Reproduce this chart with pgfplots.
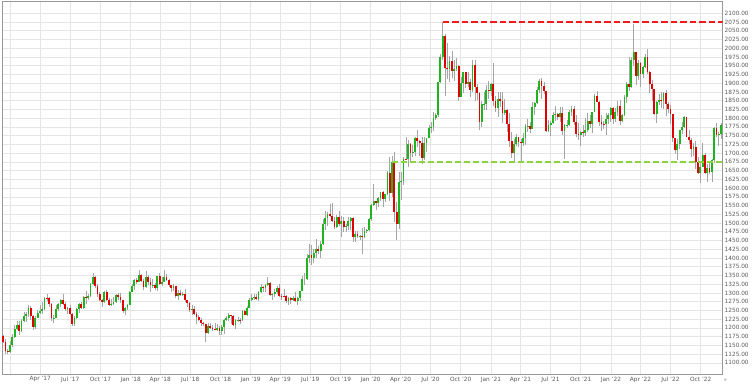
\documentclass[border=0pt]{standalone}
\usepackage{pgfplots}
\usepackage{pgfplotstable}
\pgfplotsset{compat=1.18}
\usepackage{fontspec}
\setmainfont{DejaVu Sans}
\definecolor{cgreen}{HTML}{1EB41E}
\definecolor{cred}{HTML}{E00000}
\definecolor{cwick}{HTML}{A5A5A5}
\definecolor{dred}{HTML}{EE1C1C}
\definecolor{dgreen}{HTML}{8CD43C}

\pgfplotstableread{
o h l c
1177 1180 1157 1160
1160 1167 1124 1134
1134 1139 1125 1132
1132 1163 1128 1151
1151 1182 1146 1173
1173 1207 1171 1196
1196 1219 1194 1209
1209 1220 1180 1190
1190 1226 1188 1220
1220 1244 1216 1234
1234 1245 1216 1239
1239 1264 1230 1257
1257 1263 1223 1234
1234 1236 1195 1203
1203 1233 1196 1229
1229 1251 1228 1243
1243 1265 1239 1249
1249 1274 1240 1253
1253 1289 1250 1285
1285 1296 1277 1284
1284 1287 1261 1268
1268 1270 1221 1228
1228 1236 1214 1229
1229 1264 1227 1253
1253 1270 1247 1267
1267 1282 1260 1279
1279 1296 1264 1267
1267 1275 1249 1254
1254 1259 1241 1256
1256 1264 1237 1241
1241 1243 1205 1212
1212 1233 1205 1228
1228 1257 1226 1254
1254 1270 1242 1269
1269 1274 1254 1258
1258 1291 1255 1289
1289 1306 1267 1285
1285 1298 1281 1291
1291 1327 1289 1325
1325 1357 1323 1346
1346 1347 1314 1320
1320 1326 1288 1297
1297 1304 1277 1280
1280 1283 1260 1274
1274 1306 1272 1304
1304 1307 1277 1280
1280 1284 1262 1266
1266 1283 1263 1269
1269 1289 1266 1274
1274 1297 1271 1294
1294 1299 1280 1287
1287 1299 1271 1280
1280 1280 1243 1248
1248 1261 1236 1256
1256 1268 1251 1266
1266 1305 1266 1303
1303 1326 1302 1320
1320 1339 1307 1338
1338 1344 1326 1332
1332 1366 1331 1350
1350 1355 1331 1333
1333 1340 1307 1316
1316 1362 1315 1346
1346 1352 1322 1330
1330 1342 1303 1322
1322 1341 1315 1324
1324 1328 1307 1313
1313 1349 1306 1349
1349 1356 1322 1325
1325 1346 1321 1332
1332 1365 1330 1345
1345 1355 1334 1336
1336 1339 1316 1323
1323 1323 1302 1314
1314 1326 1305 1320
1320 1321 1286 1291
1291 1307 1281 1301
1301 1308 1291 1294
1294 1303 1291 1298
1298 1310 1275 1279
1279 1280 1261 1270
1270 1273 1246 1251
1251 1265 1238 1255
1255 1262 1237 1241
1241 1245 1211 1231
1231 1236 1219 1223
1223 1227 1204 1214
1214 1218 1206 1212
1212 1212 1160 1184
1184 1214 1182 1206
1206 1215 1196 1201
1201 1207 1190 1198
1198 1214 1193 1194
1194 1211 1191 1199
1199 1204 1180 1192
1192 1208 1181 1203
1203 1226 1182 1222
1222 1233 1221 1227
1227 1243 1221 1236
1236 1238 1211 1233
1233 1237 1206 1209
1209 1225 1196 1222
1222 1230 1218 1223
1223 1229 1211 1222
1222 1250 1221 1248
1248 1251 1236 1238
1238 1263 1235 1257
1257 1284 1256 1280
1280 1298 1276 1285
1285 1298 1280 1289
1289 1298 1279 1282
1282 1305 1277 1304
1304 1326 1300 1318
1318 1320 1302 1315
1315 1325 1302 1323
1323 1346 1321 1328
1328 1331 1290 1294
1294 1301 1281 1298
1298 1311 1289 1302
1302 1320 1298 1313
1313 1325 1287 1292
1292 1296 1281 1291
1291 1310 1288 1290
1290 1295 1270 1276
1276 1288 1266 1286
1286 1289 1267 1279
1279 1290 1277 1285
1285 1304 1274 1277
1277 1287 1266 1284
1284 1306 1276 1305
1305 1348 1305 1341
1341 1358 1322 1341
1341 1411 1337 1400
1400 1439 1385 1409
1409 1438 1381 1400
1400 1425 1386 1415
1415 1453 1401 1426
1426 1433 1412 1419
1419 1449 1400 1440
1440 1510 1437 1497
1497 1535 1480 1513
1513 1531 1492 1527
1527 1555 1517 1520
1520 1557 1502 1507
1507 1516 1484 1488
1488 1524 1485 1517
1517 1535 1490 1497
1497 1519 1459 1505
1505 1517 1475 1489
1489 1498 1474 1490
1490 1518 1480 1505
1505 1516 1480 1514
1514 1517 1446 1459
1459 1478 1445 1468
1468 1478 1456 1462
1462 1466 1452 1464
1464 1485 1410 1460
1460 1488 1456 1476
1476 1482 1470 1479
1479 1514 1478 1510
1510 1553 1507 1552
1552 1611 1548 1562
1562 1563 1536 1557
1557 1573 1546 1571
1571 1589 1563 1589
1589 1591 1547 1570
1570 1584 1561 1584
1584 1649 1580 1643
1643 1689 1563 1585
1585 1692 1575 1674
1674 1703 1504 1530
1530 1560 1451 1498
1498 1645 1483 1617
1617 1645 1567 1620
1620 1690 1608 1683
1683 1747 1681 1682
1682 1738 1659 1727
1727 1730 1674 1700
1700 1722 1688 1702
1702 1745 1692 1743
1743 1765 1717 1735
1735 1737 1693 1730
1730 1745 1670 1685
1685 1745 1680 1730
1730 1744 1704 1744
1744 1779 1743 1771
1771 1789 1757 1775
1775 1818 1763 1799
1799 1815 1795 1810
1810 1904 1804 1902
1902 1983 1900 1975
1975 2075 1965 2035
2035 2042 1863 1944
1944 2015 1911 1940
1940 1977 1903 1964
1964 1992 1916 1934
1934 1966 1906 1940
1940 1973 1934 1950
1950 1952 1849 1861
1861 1917 1859 1900
1900 1933 1873 1931
1931 1933 1887 1899
1899 1933 1890 1902
1902 1911 1860 1879
1879 1965 1876 1951
1951 1965 1850 1888
1888 1898 1853 1871
1871 1876 1765 1788
1788 1848 1775 1839
1839 1875 1824 1840
1840 1896 1824 1881
1881 1906 1855 1877
1877 1900 1862 1898
1898 1959 1836 1850
1850 1864 1817 1828
1828 1875 1803 1856
1856 1875 1831 1848
1848 1875 1785 1814
1814 1855 1809 1824
1824 1826 1761 1784
1784 1816 1717 1734
1734 1759 1687 1700
1700 1740 1677 1727
1727 1755 1719 1745
1745 1745 1718 1733
1733 1741 1677 1728
1728 1758 1721 1744
1744 1784 1723 1777
1777 1797 1760 1778
1778 1790 1756 1768
1768 1845 1768 1831
1831 1845 1809 1843
1843 1890 1841 1881
1881 1913 1871 1905
1905 1916 1855 1892
1892 1903 1869 1877
1877 1877 1761 1764
1764 1795 1761 1781
1781 1791 1750 1787
1787 1818 1784 1808
1808 1834 1791 1812
1812 1815 1794 1802
1802 1833 1790 1814
1814 1832 1753 1763
1763 1782 1684 1780
1780 1795 1772 1781
1781 1823 1778 1817
1817 1834 1807 1827
1827 1834 1781 1788
1788 1809 1745 1754
1754 1787 1737 1751
1751 1764 1721 1761
1761 1781 1746 1757
1757 1800 1750 1767
1767 1814 1760 1792
1792 1810 1771 1783
1783 1818 1758 1818
1818 1869 1817 1864
1864 1877 1845 1846
1846 1849 1778 1788
1788 1808 1762 1784
1784 1793 1770 1783
1783 1815 1753 1798
1798 1815 1782 1809
1809 1831 1789 1829
1829 1831 1783 1797
1797 1830 1790 1817
1817 1848 1805 1836
1836 1853 1780 1791
1791 1812 1788 1808
1808 1865 1806 1859
1859 1902 1843 1898
1898 1974 1878 1889
1889 1974 1886 1966
1966 2070 1950 1988
1988 1990 1895 1921
1921 1966 1910 1958
1958 1960 1890 1925
1925 1948 1915 1946
1946 1982 1942 1975
1975 1998 1925 1931
1931 1936 1872 1897
1897 1910 1850 1883
1883 1884 1808 1812
1812 1849 1787 1846
1846 1870 1837 1853
1853 1874 1828 1850
1850 1875 1825 1871
1871 1879 1805 1840
1840 1847 1816 1827
1827 1838 1784 1811
1811 1813 1732 1742
1742 1744 1697 1708
1708 1739 1681 1727
1727 1767 1711 1766
1766 1788 1754 1775
1775 1807 1773 1802
1802 1802 1745 1747
1747 1765 1727 1737
1737 1742 1688 1712
1712 1729 1691 1716
1716 1735 1654 1675
1675 1688 1639 1644
1644 1675 1615 1661
1661 1730 1660 1695
1695 1700 1640 1644
1644 1669 1618 1657
1657 1675 1640 1645
1645 1684 1617 1681
1681 1775 1673 1771
1771 1787 1746 1751
1751 1761 1721 1754
1754 1786 1740 1780
}\gold

\begin{document}
\begin{tikzpicture}
\begin{axis}[
  at={(0,0)}, anchor=south west,
  scale only axis, width=720.7pt, height=373pt,
  xmin=-26.5, xmax=2166, ymin=1068, ymax=2135,
  axis line style={draw=black!40, line width=0.5pt},
  xtick={0,90,181,273,365,455,546,638,730,820,911,1003,1095,1186,1277,1369,1461,1551,1642,1734,1826,1916,2007,2099},
  xticklabels={,Apr '17,Jul '17,Oct '17,Jan '18,Apr '18,Jul '18,Oct '18,Jan '19,Apr '19,Jul '19,Oct '19,Jan '20,Apr '20,Jul '20,Oct '20,Jan '21,Apr '21,Jul '21,Oct '21,Jan '22,Apr '22,Jul '22,Oct '22},
  ytick={1100,1125,...,2100},
  yticklabel pos=right,
  grid=major,
  major grid style={draw=black!10, line width=0.5pt},
  major tick length=0pt,
  tick label style={font=\fontsize{5.8}{6}\selectfont, text=black!65},
  yticklabel style={anchor=west, inner sep=0pt, xshift=1.8pt,
    /pgf/number format/fixed, /pgf/number format/fixed zerofill,
    /pgf/number format/precision=2, /pgf/number format/1000 sep={},
    /pgf/number format/assume math mode=true},
  xticklabel style={anchor=north, inner sep=0pt, yshift=-2.5pt},
]
% wicks
\addplot[draw=none, no markers, forget plot,
  error bars/.cd, y dir=plus, y explicit, error mark=none,
  error bar style={draw=cwick, line width=0.6pt}]
  table[x expr={-23+7*\coordindex}, y=l, y error plus expr={\thisrow{h}-\thisrow{l}}]{\gold};
% up bodies
\addplot[draw=none, no markers, forget plot,
  error bars/.cd, y dir=plus, y explicit, error mark=none,
  error bar style={draw=cgreen, line width=1.8pt}]
  table[x expr={-23+7*\coordindex}, y=o, y error plus expr={max(\thisrow{c}-\thisrow{o},0)}]{\gold};
% down bodies
\addplot[draw=none, no markers, forget plot,
  error bars/.cd, y dir=minus, y explicit, error mark=none,
  error bar style={draw=cred, line width=1.8pt}]
  table[x expr={-23+7*\coordindex}, y=o, y error minus expr={max(\thisrow{o}-\thisrow{c},0)}]{\gold};
% support / resistance lines
\addplot[dgreen, line width=1.5pt, dash pattern=on 6pt off 3pt, forget plot]
  coordinates {(1160,1675) (2166,1675)};
\addplot[dred, line width=1.8pt, dash pattern=on 6.5pt off 3pt, forget plot]
  coordinates {(1314,2075) (2166,2075)};
\end{axis}
\node[anchor=center, inner sep=0pt, font=\fontsize{5}{6}\selectfont, text=black!60] at (723.5pt,-6pt) {»};
\pgfresetboundingbox
\path[use as bounding box] (-2pt,-10pt) rectangle (750pt,374pt);
\end{tikzpicture}
\end{document}
